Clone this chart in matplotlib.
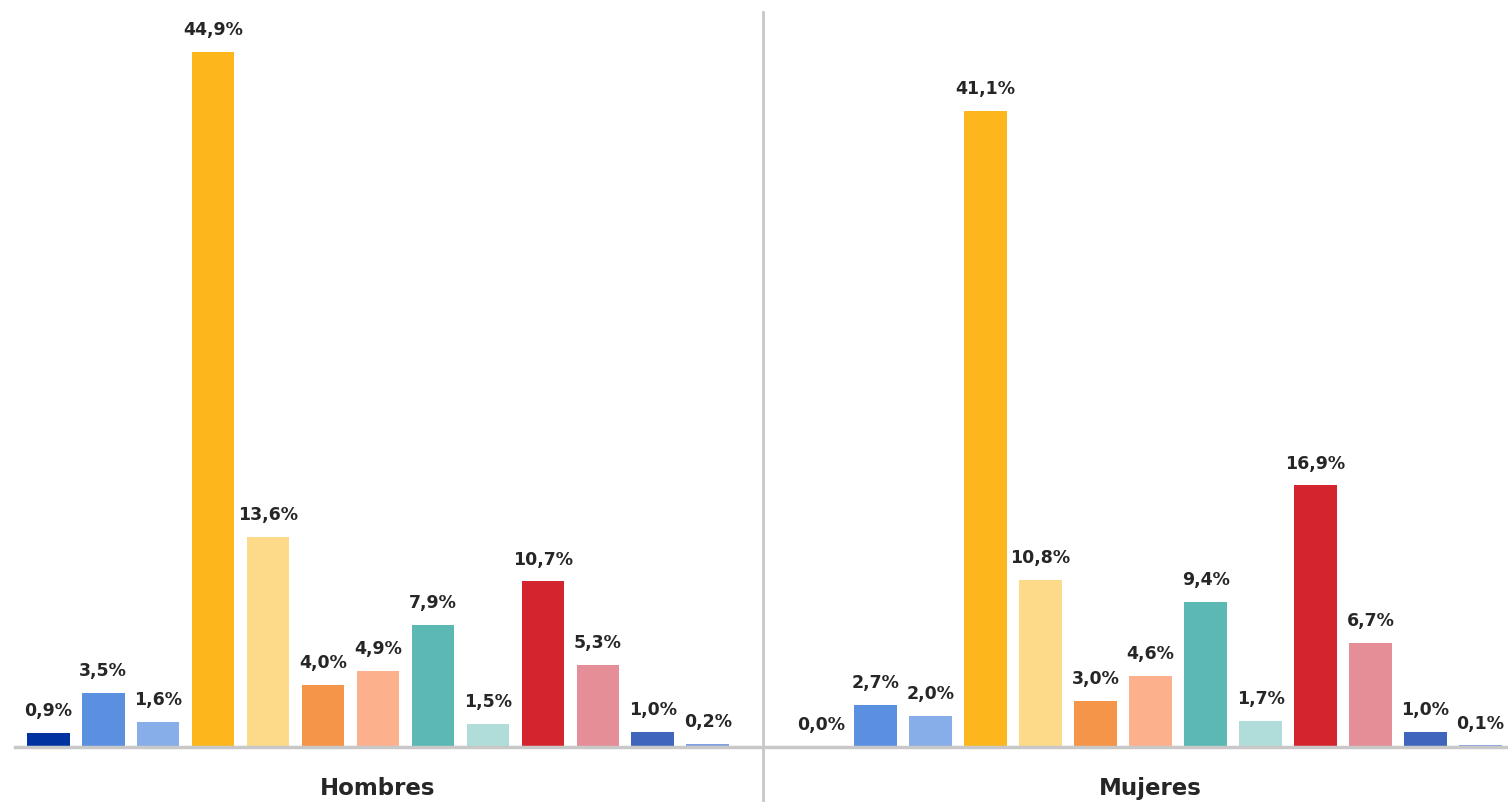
import numpy as np
import matplotlib.pyplot as plt

plt.rcParams['font.family'] = ['DejaVu Sans']

groups = ['Hombres', 'Mujeres']
hombres = [0.9, 3.5, 1.6, 44.9, 13.6, 4.0, 4.9, 7.9, 1.5, 10.7, 5.3, 1.0, 0.2]
mujeres = [0.0, 2.7, 2.0, 41.1, 10.8, 3.0, 4.6, 9.4, 1.7, 16.9, 6.7, 1.0, 0.1]
colors = ['#0033a0', '#5b8fe0', '#87aee8', '#fdb71c', '#fdd98a', '#f5954a',
          '#fdb08c', '#5bb8b2', '#b0ddd9', '#d4252f', '#e68e97', '#3f66bb', '#7f9fe0']

fig = plt.figure(figsize=(15.08, 8.03), dpi=100)
ax = fig.add_axes([0.01, 0.0685, 0.99, 0.925])

n = len(hombres)
group_offset = 14.05
for g, vals in enumerate([hombres, mujeres]):
    x = np.arange(n) + g * group_offset
    ax.bar(x, vals, width=0.78, color=colors, zorder=2)
    for xi, v in zip(x, vals):
        ax.annotate(f'{v:.1f}%'.replace('.', ','), (xi, v), xytext=(0, 10),
                    textcoords='offset points', ha='center', va='bottom',
                    fontsize=12.5, fontweight='bold', color='#262626')
    ax.text(x.mean(), -0.055, groups[g], transform=ax.get_xaxis_transform(),
            ha='center', va='center', fontsize=16.5, fontweight='bold', color='#262626')

ax.set_xlim(-0.6, 26.55)
ax.set_ylim(0, 48)
for s in ['top', 'right', 'left']:
    ax.spines[s].set_visible(False)
ax.spines['bottom'].set_color('#c8c8c8')
ax.spines['bottom'].set_linewidth(2.5)
ax.set_xticks([])
ax.set_yticks([])

# separador entre grupos
ax.plot([13.0, 13.0], [-0.09, 0.99], transform=ax.get_xaxis_transform(),
        color='#c8c8c8', lw=2, clip_on=False)

fig.savefig('out.png', dpi=100)
